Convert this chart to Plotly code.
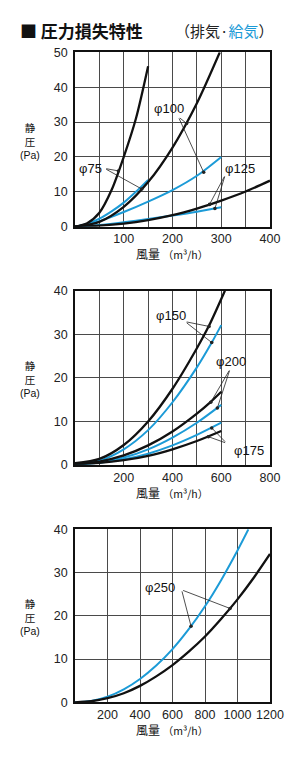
import plotly.graph_objects as go

# ---------------- data ----------------
# Chart 1 (0-400 m3/h)
x75_exh = [0, 25, 50, 75, 100, 125, 150]
y75_exh = [0, 1.0, 4.0, 10.5, 20, 31, 46]
x75_sup = [0, 25, 50, 75, 100, 125, 150]
y75_sup = [0, 0.8, 2.3, 4.4, 6.9, 10.0, 13.4]
x100_exh = [0, 50, 100, 150, 200, 250, 297]
y100_exh = [0, 1.4, 5.7, 12.8, 22.7, 35.4, 50]
x100_sup = [0, 50, 100, 150, 200, 250, 300]
y100_sup = [0, 1.6, 4.2, 7.2, 10.5, 14.6, 20]
x125_exh = [0, 50, 100, 150, 200, 250, 300, 350, 400]
y125_exh = [0, 0.3, 0.9, 1.9, 3.3, 5.2, 7.5, 10.1, 13.2]
x125_sup = [0, 50, 100, 150, 200, 250, 300]
y125_sup = [0, 0.5, 1.3, 2.2, 3.2, 4.3, 5.6]

# Chart 2 (0-800 m3/h)
x150_exh = [0, 100, 200, 300, 400, 500, 550, 615]
y150_exh = [0.4, 1.4, 4.6, 10, 17.5, 26.8, 32, 40]
x150_sup = [0, 100, 200, 300, 400, 500, 561, 600]
y150_sup = [0.3, 1.0, 3.6, 8.0, 14.4, 22.4, 28.1, 32.1]
x200_exh = [0, 100, 200, 300, 400, 500, 557, 600]
y200_exh = [0.3, 0.8, 2.2, 4.5, 7.7, 11.8, 14.5, 16.8]
x200_sup = [0, 100, 200, 300, 400, 500, 600]
y200_sup = [0.2, 0.6, 1.7, 3.6, 6.3, 9.7, 13.8]
x175_exh = [0, 100, 200, 300, 400, 500, 600]
y175_exh = [0.3, 0.5, 1.1, 2.1, 3.6, 5.5, 7.8]
x175_sup = [0, 100, 200, 300, 400, 500, 600]
y175_sup = [0.2, 0.5, 1.3, 2.6, 4.5, 6.9, 9.7]

# Chart 3 (0-1200 m3/h)
x250_exh = [0, 100, 200, 300, 400, 500, 600, 700, 800, 900, 1000, 1100, 1200]
y250_exh = [0, 0.24, 0.95, 2.1, 3.8, 6.0, 8.6, 11.7, 15.2, 19.3, 23.8, 28.8, 34.3]
x250_sup = [0, 100, 200, 300, 400, 500, 600, 700, 800, 900, 1000, 1067]
y250_sup = [0, 0.3, 1.3, 3.0, 5.4, 8.5, 12.3, 16.9, 22.2, 28.3, 35.1, 40]

# axis ticks
x1_ticks = [0, 50, 100, 150, 200, 250, 300, 350, 400]
x1_labels = ["", "", "100", "", "200", "", "300", "", "400"]
y1_ticks = [0, 10, 20, 30, 40, 50]
x2_ticks = [0, 100, 200, 300, 400, 500, 600, 700, 800]
x2_labels = ["", "", "200", "", "400", "", "600", "", "800"]
y2_ticks = [0, 10, 20, 30, 40]
x3_ticks = [0, 200, 400, 600, 800, 1000, 1200]
x3_labels = ["", "200", "400", "600", "800", "1000", "1200"]
y3_ticks = [0, 10, 20, 30, 40]

# leader labels: (label, label_x, label_y, origin_x, origin_y, [targets])
labels1 = [
    ("φ75", 31, 16.8, 61, 16.7, [(89, 16.0), (137, 10.8)]),
    ("φ100", 192, 33.8, 212, 31.5, [(229, 29.6), (264, 15.6)]),
    ("φ125", 338, 16.6, 308, 14.8, [(276, 6.4), (287, 5.2)]),
]
labels2 = [
    ("φ150", 392, 34.4, 452, 32.9, [(550, 31.8), (561, 28.1)]),
    ("φ200", 640, 23.8, 636, 22.0, [(557, 14.4), (584, 13.1)]),
    ("φ175", 712, 3.3, 622, 5.0, [(561, 8.5), (547, 6.5)]),
]
labels3 = [
    ("φ250", 523, 26.6, 656, 26.0, [(714, 17.6), (954, 21.7)]),
]

BLACK = "#111111"
BLUE = "#1c9bd7"
NUM_FONT = "Liberation Sans, Arial, sans-serif"
JP_FONT = "Noto Sans CJK JP, sans-serif"

W, H = 300, 758

fig = go.Figure()

def add_curve(xs, ys, color, idx, width):
    fig.add_trace(go.Scatter(
        x=xs, y=ys, mode="lines",
        line=dict(color=color, width=width, shape="spline", smoothing=0.8),
        xaxis="x" if idx == 1 else f"x{idx}",
        yaxis="y" if idx == 1 else f"y{idx}",
        showlegend=False, hoverinfo="skip"))

# chart 1
add_curve(x75_sup, y75_sup, BLUE, 1, 2)
add_curve(x100_sup, y100_sup, BLUE, 1, 2)
add_curve(x125_sup, y125_sup, BLUE, 1, 2)
add_curve(x75_exh, y75_exh, BLACK, 1, 2.3)
add_curve(x100_exh, y100_exh, BLACK, 1, 2.3)
add_curve(x125_exh, y125_exh, BLACK, 1, 2.3)
# chart 2
add_curve(x150_sup, y150_sup, BLUE, 2, 2)
add_curve(x200_sup, y200_sup, BLUE, 2, 2)
add_curve(x175_sup, y175_sup, BLUE, 2, 2)
add_curve(x150_exh, y150_exh, BLACK, 2, 2.3)
add_curve(x200_exh, y200_exh, BLACK, 2, 2.3)
add_curve(x175_exh, y175_exh, BLACK, 2, 2.3)
# chart 3
add_curve(x250_sup, y250_sup, BLUE, 3, 2)
add_curve(x250_exh, y250_exh, BLACK, 3, 2.3)

# plot-area pixel boxes (top, bottom)
boxes = [(52.3, 226.7), (290.7, 465.0), (529.3, 702.3)]
xdom = [75 / W, 270 / W]

def ydom(top, bot):
    return [1 - bot / H, 1 - top / H]

axis_common = dict(
    showgrid=True, gridcolor="#4a4a4a", gridwidth=1,
    showline=True, linecolor="#111111", linewidth=1.5, mirror=True,
    zeroline=False, ticks="", tickfont=dict(family=NUM_FONT, size=12.5, color="#222222"),
    fixedrange=True, automargin=False,
)

xcfg = [(x1_ticks, x1_labels, [0, 400]), (x2_ticks, x2_labels, [0, 800]), (x3_ticks, x3_labels, [0, 1200])]
ycfg = [(y1_ticks, [0, 50]), (y2_ticks, [0, 40]), (y3_ticks, [0, 40])]

layout = dict(
    width=W, height=H, margin=dict(l=0, r=0, t=0, b=0, pad=0, autoexpand=False),
    paper_bgcolor="white", plot_bgcolor="white", showlegend=False,
)
for i in range(3):
    xn = "xaxis" if i == 0 else f"xaxis{i+1}"
    yn = "yaxis" if i == 0 else f"yaxis{i+1}"
    xa = "x" if i == 0 else f"x{i+1}"
    ya = "y" if i == 0 else f"y{i+1}"
    tv, tt, rg = xcfg[i]
    layout[xn] = dict(axis_common, domain=xdom, anchor=ya, range=rg,
                      tickmode="array", tickvals=tv, ticktext=tt)
    ytv, yrg = ycfg[i]
    layout[yn] = dict(axis_common, domain=ydom(*boxes[i]), anchor=xa, range=yrg,
                      tickmode="array", tickvals=ytv, ticktext=[str(v) for v in ytv],
                      ticklabelstandoff=3)
fig.update_layout(**layout)

annotations = []

def px_ann(text, x, y, size, color="#111111", family=JP_FONT, xanchor="center"):
    annotations.append(dict(
        text=text, x=x / W, y=1 - y / H, xref="paper", yref="paper",
        showarrow=False, xanchor=xanchor, yanchor="middle",
        font=dict(family=family, size=size, color=color)))

# Title
px_ann("<b>■ 圧力損失特性</b>", 18, 30, 17, xanchor="left")
px_ann("（排気·<span style='color:%s'>給気</span>）" % BLUE, 224, 30, 15, color="#222222")

# axis titles
for (top, bot) in boxes:
    cy = (top + bot) / 2
    px_ann("静<br>圧<br><span style='font-family:Liberation Sans'>(Pa)</span>", 30, cy + 1, 10.5)
    px_ann("風量 <span style='font-size:10.5px'>（m³/h）</span>", 172, bot + 27, 12)

# leader labels
for idx, group in [(1, labels1), (2, labels2), (3, labels3)]:
    xr = "x" if idx == 1 else f"x{idx}"
    yr = "y" if idx == 1 else f"y{idx}"
    for (txt, lx, ly, ox, oy, targets) in group:
        annotations.append(dict(
            text=txt, x=lx, y=ly, xref=xr, yref=yr, showarrow=False,
            font=dict(family=NUM_FONT, size=13, color="#111111"),
            xanchor="center", yanchor="middle", bgcolor="rgba(255,255,255,0)"))
        for (tx, ty) in targets:
            annotations.append(dict(
                text="", x=tx, y=ty, xref=xr, yref=yr, ax=ox, ay=oy,
                axref=xr, ayref=yr, showarrow=True, arrowhead=6,
                arrowsize=1.1, arrowwidth=0.8, arrowcolor="#222222", standoff=0))

fig.update_layout(annotations=annotations)
fig.write_html("out.html")
